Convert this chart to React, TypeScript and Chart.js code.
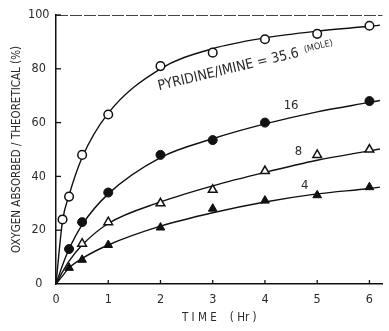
import React, { useEffect, useRef } from 'react';
import { Chart, registerables } from 'chart.js';

Chart.register(...registerables);

// ---- data ----
const xTickValues = [0, 1, 2, 3, 4, 5, 6];
const yTickValues = [0, 20, 40, 60, 80, 100];

// measured points (open circles: ratio 35.6)
const ratio356X = [0.125, 0.25, 0.5, 1, 2, 3, 4, 5, 6];
const ratio356Y = [24, 32.5, 48, 63, 81, 86, 91, 93, 96];
// filled circles: ratio 16
const ratio16X = [0.25, 0.5, 1, 2, 3, 4, 6];
const ratio16Y = [13, 23, 34, 48, 53.5, 60, 68];
// open triangles: ratio 8
const ratio8X = [0.5, 1, 2, 3, 4, 5, 6];
const ratio8Y = [15, 23, 30, 35, 42, 48, 50];
// filled triangles: ratio 4
const ratio4X = [0.25, 0.5, 1, 2, 3, 4, 5, 6];
const ratio4Y = [6, 9, 14.5, 21, 28, 31, 33, 36];

// fitted curves as drawn in the picture
const curveX = [0, 0.125, 0.25, 0.5, 1, 2, 3, 4, 5, 6, 6.2];
const curve356 = [0, 23.5, 33, 47, 63.5, 80, 87.5, 91.5, 94, 95.8, 96.2];
const curve16 = [0, 7, 13, 22, 33.5, 47, 54, 59.5, 64, 67.5, 68.2];
const curve8 = [0, 4.5, 8.5, 14.5, 22.5, 30.5, 36.5, 41.5, 46, 49.5, 50.2];
const curve4 = [0, 3, 6, 9.5, 14.5, 21.5, 26.5, 30.5, 33.5, 35.5, 36];

const mainLabel = 'PYRIDINE/IMINE = 35.6';
const unitLabel = '(MOLE)';
const ratioLabels = ['16', '8', '4'];
const xTitle = 'T I M E    ( Hr )';
const yTitle = 'OXYGEN ABSORBED / THEORETICAL (%)';

const TEXT = '#2a2a2a';
const NARROW = '"Liberation Sans Narrow", "DejaVu Sans Condensed", sans-serif';
const COND = '"DejaVu Sans Condensed", "Liberation Sans Narrow", sans-serif';

const pts = (xs: number[], ys: number[]) => xs.map((x, i) => ({ x, y: ys[i] }));

const decorPlugin = {
  id: 'decor',
  afterDatasetsDraw(chart: any) {
    const { ctx, chartArea } = chart;
    const xs = chart.scales.x;
    const ys = chart.scales.y;
    ctx.save();
    // top frame line
    ctx.strokeStyle = '#444';
    ctx.lineWidth = 1;
    ctx.setLineDash([12, 2]);
    ctx.beginPath();
    ctx.moveTo(chartArea.left, chartArea.top + 0.5);
    ctx.lineTo(chartArea.right, chartArea.top + 0.5);
    ctx.stroke();
    ctx.setLineDash([]);
    // inward tick marks
    ctx.strokeStyle = '#111';
    ctx.lineWidth = 1.3;
    xs.ticks.forEach((t: any, i: number) => {
      if (t.value === 0) return;
      const px = xs.getPixelForTick(i);
      ctx.beginPath();
      ctx.moveTo(px, chartArea.bottom);
      ctx.lineTo(px, chartArea.bottom - 4);
      ctx.stroke();
    });
    ys.ticks.forEach((t: any, i: number) => {
      if (t.value === 0) return;
      const py = ys.getPixelForTick(i);
      ctx.beginPath();
      ctx.moveTo(chartArea.left, py);
      ctx.lineTo(chartArea.left + 5, py);
      ctx.stroke();
    });
    // curve labels
    ctx.fillStyle = TEXT;
    ctx.save();
    ctx.translate(xs.getPixelForValue(1.97), ys.getPixelForValue(72));
    ctx.rotate((-13.5 * Math.PI) / 180);
    ctx.font = `14px ${COND}`;
    ctx.textAlign = 'left';
    ctx.textBaseline = 'alphabetic';
    ctx.fillText(mainLabel, 0, 0);
    const w = ctx.measureText(mainLabel).width;
    ctx.font = `9px ${COND}`;
    ctx.fillText(unitLabel, w + 6, -3);
    ctx.restore();

    ctx.font = `13px ${NARROW}`;
    ctx.textAlign = 'center';
    ctx.textBaseline = 'middle';
    const lp = [
      [4.5, 66.2],
      [4.64, 49.1],
      [4.76, 36.4],
    ];
    ratioLabels.forEach((l, i) => {
      ctx.fillText(l, xs.getPixelForValue(lp[i][0]), ys.getPixelForValue(lp[i][1]));
    });
    ctx.restore();
  },
};

export default function App() {
  const ref = useRef<HTMLCanvasElement>(null);
  useEffect(() => {
    if (!ref.current) return;
    const curveStyle = {
      type: 'line' as const,
      showLine: true,
      borderColor: '#111',
      borderWidth: 1.4,
      pointRadius: 0,
      cubicInterpolationMode: 'monotone' as const,
      fill: false,
      order: 2,
    };
    const chart = new Chart(ref.current, {
      type: 'scatter',
      data: {
        datasets: [
          { ...curveStyle, data: pts(curveX, curve356) },
          { ...curveStyle, data: pts(curveX, curve16) },
          { ...curveStyle, data: pts(curveX, curve8) },
          { ...curveStyle, data: pts(curveX, curve4) },
          {
            data: pts(ratio356X, ratio356Y),
            pointStyle: 'circle',
            pointRadius: 4.3,
            backgroundColor: '#fff',
            borderColor: '#111',
            borderWidth: 1.5,
            order: 0,
          },
          {
            data: pts(ratio16X, ratio16Y),
            pointStyle: 'circle',
            pointRadius: 4.5,
            backgroundColor: '#111',
            borderColor: '#111',
            borderWidth: 1,
            order: 0,
          },
          {
            data: pts(ratio8X, ratio8Y),
            pointStyle: 'triangle',
            pointRadius: 5,
            backgroundColor: '#fff',
            borderColor: '#111',
            borderWidth: 1.5,
            order: 0,
          },
          {
            data: pts(ratio4X, ratio4Y),
            pointStyle: 'triangle',
            pointRadius: 5,
            backgroundColor: '#111',
            borderColor: '#111',
            borderWidth: 1,
            order: 0,
          },
        ],
      },
      options: {
        animation: false,
        responsive: false,
        events: [],
        layout: { padding: { top: 15, right: 2, left: 0, bottom: 0 } },
        plugins: { legend: { display: false }, tooltip: { enabled: false } },
        scales: {
          x: {
            type: 'linear',
            min: 0,
            max: 6.25,
            afterBuildTicks: (s: any) => {
              s.ticks = xTickValues.map((v) => ({ value: v }));
            },
            afterFit: (s: any) => {
              s.height = 47;
            },
            grid: { display: false, drawTicks: false },
            border: { display: true, color: '#111', width: 1.5 },
            ticks: {
              padding: 8.5,
              color: TEXT,
              font: { family: NARROW, size: 12.5 },
            },
            title: {
              display: true,
              text: xTitle,
              color: TEXT,
              font: { family: COND, size: 11.5 },
              padding: { top: 0, bottom: 6 },
            },
          },
          y: {
            type: 'linear',
            min: 0,
            max: 100,
            afterBuildTicks: (s: any) => {
              s.ticks = yTickValues.map((v) => ({ value: v }));
            },
            afterFit: (s: any) => {
              s.width = 56;
            },
            grid: { display: false, drawTicks: false },
            border: { display: true, color: '#111', width: 1.5 },
            ticks: {
              padding: 6.5,
              crossAlign: 'center',
              color: TEXT,
              font: { family: NARROW, size: 12.5 },
            },
            title: {
              display: true,
              text: yTitle,
              color: TEXT,
              font: { family: COND, size: 11.5 },
              padding: { top: 10, bottom: 0 },
            },
          },
        },
      },
      plugins: [decorPlugin],
    });
    return () => chart.destroy();
  }, []);
  return (
    <div style={{ position: 'absolute', left: 0, top: 0, width: 389, height: 331, background: '#fff' }}>
      <canvas ref={ref} width={389} height={331} style={{ display: 'block' }} />
    </div>
  );
}
